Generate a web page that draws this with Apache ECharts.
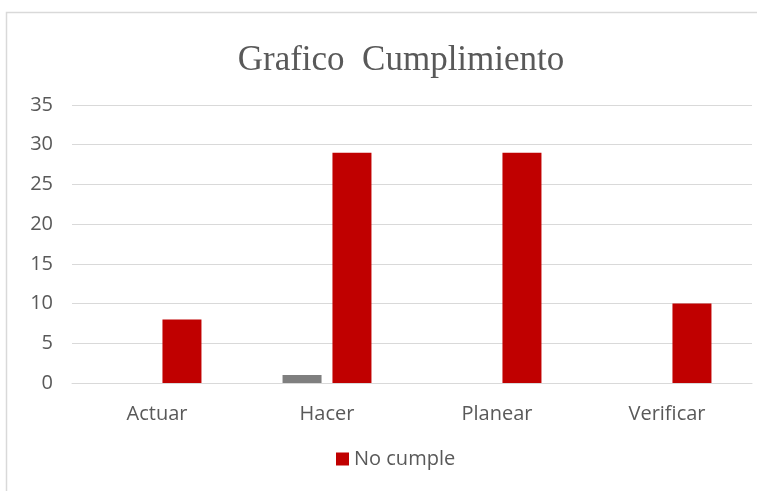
<!DOCTYPE html>
<html><head><meta charset="utf-8">
<script src="https://cdn.jsdelivr.net/npm/echarts@6/dist/echarts.min.js"></script>
<style>html,body{margin:0;padding:0;background:#fff}#c{width:757px;height:491px}</style>
</head><body><div id="c"></div>
<script>
var categories = ['Actuar', 'Hacer', 'Planear', 'Verificar'];
var cumpleValues = [0, 1, 0, 0];
var noCumpleValues = [8, 29, 29, 10];
var yTicks = [0, 5, 10, 15, 20, 25, 30, 35];

var chart = echarts.init(document.getElementById('c'), null, {renderer: 'canvas'});
chart.setOption({
  animation: false,
  backgroundColor: '#fff',
  graphic: [{type: 'rect', shape: {x: 6.5, y: 12.5, width: 760, height: 600},
    style: {fill: 'none', stroke: '#d9d9d9', lineWidth: 1.5}, silent: true}],
  title: {text: 'Grafico  Cumplimiento', left: 396, top: 38, textAlign: 'center',
    textStyle: {fontFamily: 'Liberation Serif', fontSize: 35, fontWeight: 'normal', color: '#595959'}},
  legend: {data: ['No cumple'], left: 331, top: 444, itemWidth: 13, itemHeight: 13, itemGap: 5,
    icon: 'rect', textStyle: {fontFamily: 'Open Sans', fontSize: 20, color: '#595959'}},
  grid: {left: 72, right: 5, top: 105, bottom: 108},
  xAxis: {type: 'category', data: categories,
    axisLine: {lineStyle: {color: '#d9d9d9'}}, axisTick: {show: false},
    axisLabel: {fontFamily: 'Open Sans', fontSize: 20, color: '#595959', margin: 21}},
  yAxis: {type: 'value', min: yTicks[0], max: yTicks[yTicks.length - 1], interval: 5,
    axisLine: {show: false}, axisTick: {show: false},
    splitLine: {lineStyle: {color: '#d9d9d9', width: 1}},
    axisLabel: {fontFamily: 'Open Sans', fontSize: 20, color: '#595959', margin: 19}},
  series: [
    {name: 'Cumple', type: 'bar', data: cumpleValues, barWidth: 39, barGap: '28%',
      itemStyle: {color: '#7f7f7f'}},
    {name: 'No cumple', type: 'bar', data: noCumpleValues, barWidth: 39, barGap: '28%',
      itemStyle: {color: '#c00000'}}
  ]
});
</script></body></html>
